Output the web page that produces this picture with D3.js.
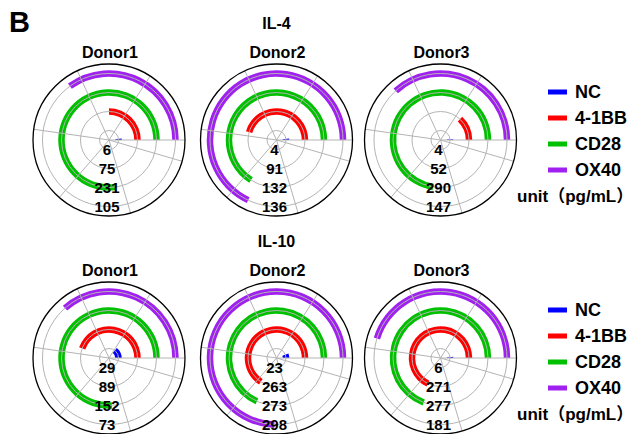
<!DOCTYPE html>
<html>
<head>
<meta charset="utf-8">
<script src="https://cdn.jsdelivr.net/npm/d3@7"></script>
<style>
  html, body { margin: 0; padding: 0; background: #fff; }
  svg { display: block; }
  text { font-family: "Liberation Sans", Arial, "Noto Sans CJK SC", sans-serif; font-weight: bold; fill: #000; }
</style>
</head>
<body>
<script>
// Treatment groups, drawn from the innermost ring outwards
const groups = ["NC", "4-1BB", "CD28", "OX40"];
const groupColors = ["#0000ff", "#ff0000", "#00c000", "#a020f0"];
const donors = ["Donor1", "Donor2", "Donor3"];
const cytokines = ["IL-4", "IL-10"];

// Secreted cytokine (pg/mL), one array per donor, in the order of `groups`
const il4Values = [
  [6, 75, 231, 105],
  [4, 91, 132, 136],
  [4, 52, 290, 147]
];
const il10Values = [
  [29, 89, 152, 73],
  [23, 263, 273, 298],
  [6, 271, 277, 181]
];
// Value that completes a full turn on each donor's dial
const il4FullTurn = [300, 200, 400];
const il10FullTurn = [200, 400, 400];
const unitLabel = "unit（pg/mL）";

const W = 637, H = 434;
const svg = d3.select("body").append("svg").attr("width", W).attr("height", H);

svg.append("text").attr("x", 9).attr("y", 32).style("font-size", "29px").text("B");

const panels = [
  { name: cytokines[0], values: il4Values, turn: il4FullTurn },
  { name: cytokines[1], values: il10Values, turn: il10FullTurn }
];

const R = 76;                       // outer rim of each dial
const rowStep = 218;
const centersX = [109, 276.5, 440.5];
const ring = d3.scaleBand().domain(groups).range([0, R]);
const ringMid = g => ring(g) + ring.bandwidth() / 2;
const barWidth = 6.5;
const color = d3.scaleOrdinal().domain(groups).range(groupColors);

panels.forEach((panel, row) => {
  const y0 = row * rowStep;
  const cy = y0 + 140;

  svg.append("text")
    .attr("x", 276.5).attr("y", y0 + 23)
    .attr("text-anchor", "middle").attr("dominant-baseline", "central")
    .style("font-size", "16px").text(panel.name);

  donors.forEach((donor, i) => {
    const cx = centersX[i];
    const vals = panel.values[i];
    const theta = d3.scaleLinear().domain([0, panel.turn[i]]).range([0, 2 * Math.PI]);
    const g = svg.append("g").attr("transform", `translate(${cx},${cy})`);

    svg.append("text")
      .attr("x", cx + 1).attr("y", y0 + 52)
      .attr("text-anchor", "middle").attr("dominant-baseline", "central")
      .style("font-size", "16px").text(donor);

    // bars: counter-clockwise from 3 o'clock
    const arc = d3.arc()
      .innerRadius(d => ringMid(d.group) - barWidth / 2)
      .outerRadius(d => ringMid(d.group) + barWidth / 2)
      .startAngle(d => Math.PI / 2 - theta(d.value))
      .endAngle(Math.PI / 2);

    const data = groups.map((grp, k) => ({ group: grp, value: vals[k] }));
    g.selectAll("path.bar").data(data).enter().append("path")
      .attr("class", "bar")
      .attr("d", arc)
      .attr("fill", d => color(d.group));

    // grid: one circle per ring, spokes every radian
    g.selectAll("circle.grid").data(groups).enter().append("circle")
      .attr("class", "grid")
      .attr("r", d => ringMid(d))
      .attr("fill", "none").attr("stroke", "#b4b4b4").attr("stroke-width", 1);
    g.selectAll("line.spoke").data(d3.range(0, 2 * Math.PI, 1)).enter().append("line")
      .attr("class", "spoke")
      .attr("x1", 0).attr("y1", 0)
      .attr("x2", a => R * Math.cos(a)).attr("y2", a => -R * Math.sin(a))
      .attr("stroke", "#b4b4b4").attr("stroke-width", 1);
    g.append("circle").attr("r", R)
      .attr("fill", "none").attr("stroke", "#000").attr("stroke-width", 1.3);

    // value labels, one per ring, stacked below the centre
    g.selectAll("text.val").data(data).enter().append("text")
      .attr("class", "val")
      .attr("x", -2).attr("y", d => ringMid(d.group))
      .attr("text-anchor", "middle").attr("dominant-baseline", "central")
      .style("font-size", "15px")
      .text(d => d.value);
  });

  // legend
  const lg = svg.append("g").attr("transform", `translate(0,${y0})`);
  groups.forEach((grp, k) => {
    const ly = 92 + k * 26;
    lg.append("line")
      .attr("x1", 548).attr("x2", 567).attr("y1", ly).attr("y2", ly)
      .attr("stroke", color(grp)).attr("stroke-width", 5);
    lg.append("text")
      .attr("x", 575).attr("y", ly)
      .attr("dominant-baseline", "central")
      .style("font-size", "18px").text(grp);
  });
  lg.append("text")
    .attr("x", 517).attr("y", 196)
    .attr("dominant-baseline", "central")
    .style("font-size", "17px").text(unitLabel);
});
</script>
</body>
</html>
